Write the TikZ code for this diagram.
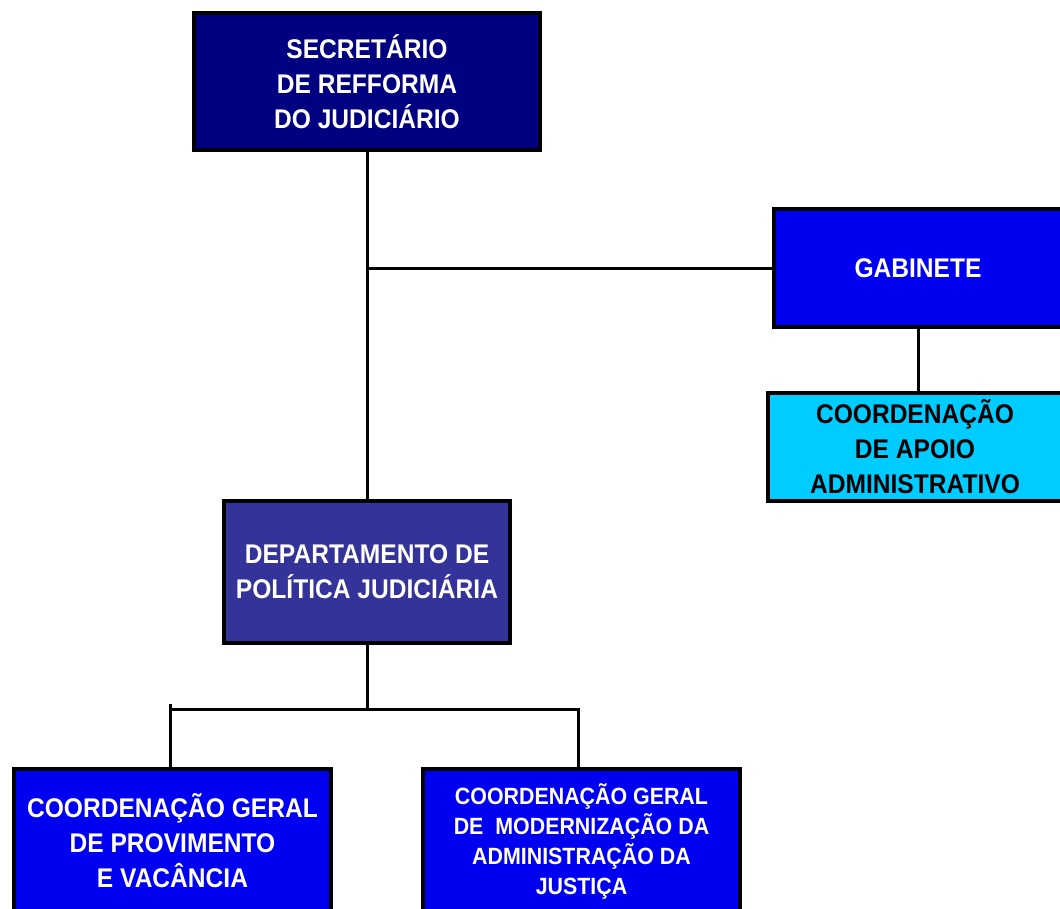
\documentclass[tikz,border=0pt]{standalone}
\usepackage{fontspec}
\setmainfont[FakeStretch=0.91]{Liberation Sans}
\begin{document}
\begin{tikzpicture}[x=1pt,y=-1pt,
  box/.style={draw=black,line width=3.5pt,rectangle,inner sep=0pt,align=center,
    font=\fontsize{27}{35}\selectfont\bfseries,text=white},
  conn/.style={line width=3pt,line cap=rect}]
\definecolor{navy}{HTML}{000080}
\definecolor{gblue}{HTML}{0000F0}
\definecolor{cyanb}{HTML}{00CCFF}
\definecolor{dept}{HTML}{333399}
\useasboundingbox (0,0) rectangle (1060,908);
\node[box,fill=navy,minimum width=346pt,minimum height=137pt] (sec) at (367,81.5)
  {SECRETÁRIO\\DE REFFORMA\\DO JUDICIÁRIO};
\node[box,fill=gblue,minimum width=288pt,minimum height=118pt] (gab) at (918,268)
  {GABINETE};
\node[box,fill=cyanb,text=black,minimum width=294pt,minimum height=108pt] (apo) at (915,447)
  {COORDENAÇÃO\\DE APOIO\\ADMINISTRATIVO};
\node[box,fill=dept,minimum width=286pt,minimum height=142pt] (dep) at (367,572)
  {DEPARTAMENTO DE\\POLÍTICA JUDICIÁRIA};
\node[box,fill=gblue,minimum width=317pt,minimum height=144pt] (bl) at (172.5,841)
  {COORDENAÇÃO GERAL\\DE PROVIMENTO\\E VACÂNCIA};
\node[box,fill=gblue,minimum width=317pt,minimum height=144pt,
  font=\fontsize{23.5}{30}\selectfont\bfseries] (br) at (581.5,841)
  {COORDENAÇÃO GERAL\\DE\ \ MODERNIZAÇÃO DA\\ADMINISTRAÇÃO DA\\JUSTIÇA};
\coordinate (j1) at (367,268);
\coordinate (j2) at (367,709);
\coordinate (jl) at (170,709);
\coordinate (jlt) at (170,705);
\coordinate (jr) at (578,709);
\draw[conn] (sec.south) -- (dep.north);
\draw[conn] (j1) -- (gab.west);
\draw[conn] (gab.south) -- (gab.south |- apo.north);
\draw[conn] (dep.south) -- (j2);
\draw[conn] (jl) -- (jr);
\draw[conn] (jlt) -- (jl |- bl.north);
\draw[conn] (jr) -- (jr |- br.north);
\end{tikzpicture}
\end{document}
